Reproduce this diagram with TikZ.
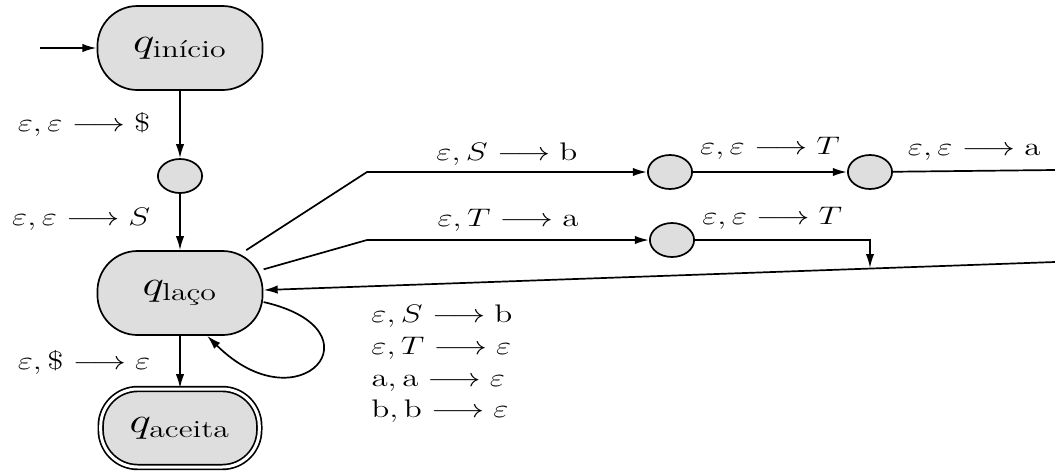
\RequirePackage{fix-cm}
\documentclass[tikz,border=0pt]{standalone}
\usepackage{amsmath}
\usetikzlibrary{arrows.meta}
\definecolor{stategray}{gray}{0.87}

\begin{document}
\begin{tikzpicture}[x=0.5pt, y=-0.5pt, >={Latex[length=7pt,width=4.2pt]}, line width=0.85pt,
    every node/.style={font=\fontsize{12.7}{15.8}\selectfont, xscale=1.3, inner sep=2pt},
    state/.style={rectangle, rounded corners=20pt, draw, fill=stategray,
      font=\fontsize{17.5}{21}\selectfont, minimum width=63.5pt, minimum height=42pt},
    accepting/.style={state, double, double distance=1.5pt, rounded corners=18.5pt,
      minimum width=61pt, minimum height=39pt},
    aux/.style={circle, draw, fill=stategray, minimum size=17pt, inner sep=0pt}]
  \useasboundingbox (0,0) rectangle (1055,472);

  % states
  \node[state] (ini) at (180,48) {$q_{\text{início}}$};
  \node[aux] (m1) at (180,176) {};
  \node[state] (laco) at (180,293) {$q_{\text{laço}}$};
  \node[accepting] (acc) at (180,428) {$q_{\text{aceita}}$};
  \node[aux] (m2) at (670,172) {};
  \node[aux] (m3) at (672,240) {};
  \node[aux] (m4) at (870,172) {};

  % corners and loose ends
  \coordinate (start) at (40,48);
  \coordinate (c1) at (367,172);
  \coordinate (c2) at (367,240);
  \coordinate (outR) at (1055,170);
  \coordinate (inR) at (1055,262);
  \coordinate (hit) at (870,268);

  \draw[->] (start) -- (ini);
  \draw[->] (ini) -- node[left=9pt] {$\varepsilon,\varepsilon\longrightarrow\$$} (m1);
  \draw[->] (m1) -- node[left=9pt, pos=0.45] {$\varepsilon,\varepsilon\longrightarrow S$} (laco);
  \draw[->] (laco) -- node[left=9pt] {$\varepsilon,\$\longrightarrow\varepsilon$} (acc);

  \draw[->] (laco) -- (c1) -- node[above=1pt] {$\varepsilon,S\longrightarrow\mathrm{b}$} (m2);
  \draw[->] (m2) -- node[above=4pt] {$\varepsilon,\varepsilon\longrightarrow T$} (m4);
  \draw (m4) -- node[above=3pt] {$\varepsilon,\varepsilon\longrightarrow\mathrm{a}$} (outR);

  \draw[->] (laco) -- (c2) -- node[above=2pt] {$\varepsilon,T\longrightarrow\mathrm{a}$} (m3);
  \draw[->] (m3) -| node[above=3pt, pos=0.22] {$\varepsilon,\varepsilon\longrightarrow T$} (hit);
  \draw[->] (inR) -- (laco);

  % self loop
  \draw[->] (laco.-8) .. controls (385,330) and (300,428) ..
    node[right=19pt, pos=0.5, align=left] {$\varepsilon,S\longrightarrow\mathrm{b}$\\
      $\varepsilon,T\longrightarrow\varepsilon$\\
      $\mathrm{a},\mathrm{a}\longrightarrow\varepsilon$\\
      $\mathrm{b},\mathrm{b}\longrightarrow\varepsilon$} (laco.-64);
\end{tikzpicture}
\end{document}
